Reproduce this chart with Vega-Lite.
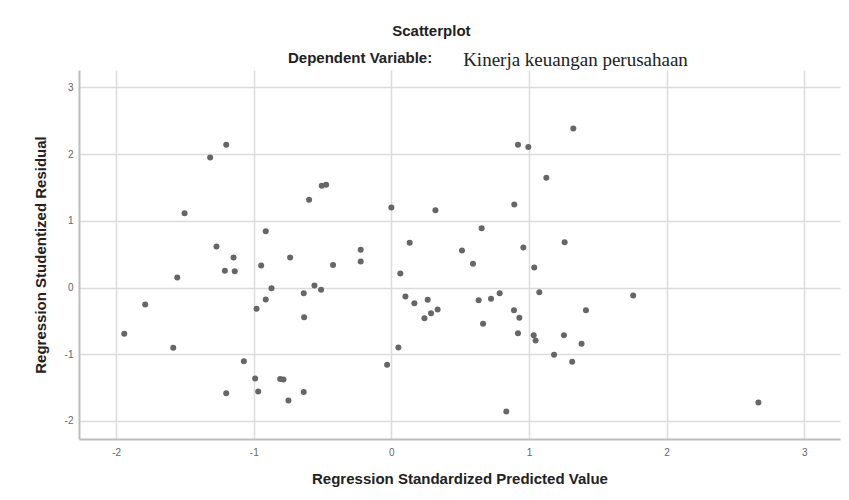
{
  "$schema": "https://vega.github.io/schema/vega-lite/v6.json",
  "autosize": {"type": "none"},
  "padding": {"left": 79, "top": 70, "right": 9, "bottom": 61},
  "width": 761,
  "height": 369,
  "background": "white",
  "title": {
    "text": "\u200b\u00a0\u00a0\u00a0\u00a0\u00a0\u00a0\u00a0\u00a0\u00a0\u00a0\u00a0\u00a0\u00a0\u00a0\u00a0\u00a0\u00a0\u00a0\u00a0\u00a0\u00a0\u00a0\u00a0\u00a0\u00a0Scatterplot",
    "subtitle": "Dependent Variable:",
    "anchor": "start",
    "frame": "group",
    "dx": 209,
    "offset": -16,
    "font": "Liberation Sans",
    "fontSize": 15,
    "fontWeight": "bold",
    "color": "#222",
    "subtitleFont": "Liberation Sans",
    "subtitleFontSize": 15,
    "subtitleFontWeight": "bold",
    "subtitleColor": "#222",
    "subtitlePadding": 12
  },
  "config": {
    "view": {"stroke": null},
    "axis": {
      "domainColor": "#bdbdbd",
      "domainWidth": 2,
      "gridColor": "#dcdcdc",
      "gridWidth": 1.5,
      "ticks": false,
      "labelColor": "#666",
      "labelFont": "Liberation Sans",
      "labelFontSize": 10,
      "titleFont": "Liberation Sans",
      "titleFontSize": 15,
      "titleFontWeight": "bold",
      "titleColor": "#222"
    }
  },
  "data": {
    "values": [
      {"pred": -1.200, "resid": 2.14},
      {"pred": -1.317, "resid": 1.95},
      {"pred": -1.503, "resid": 1.115},
      {"pred": -1.556, "resid": 0.15},
      {"pred": -1.789, "resid": -0.255},
      {"pred": -1.941, "resid": -0.694},
      {"pred": -1.585, "resid": -0.904},
      {"pred": -1.271, "resid": 0.615},
      {"pred": -1.147, "resid": 0.45},
      {"pred": -1.210, "resid": 0.25},
      {"pred": -1.138, "resid": 0.245},
      {"pred": -1.200, "resid": -1.583},
      {"pred": -1.072, "resid": -1.104},
      {"pred": -0.990, "resid": -1.364},
      {"pred": -0.968, "resid": -1.559},
      {"pred": -0.808, "resid": -1.369},
      {"pred": -0.784, "resid": -1.38},
      {"pred": -0.748, "resid": -1.694},
      {"pred": -0.637, "resid": -1.564},
      {"pred": -0.980, "resid": -0.319},
      {"pred": -0.913, "resid": -0.18},
      {"pred": -0.871, "resid": -0.01},
      {"pred": -0.946, "resid": 0.33},
      {"pred": -0.913, "resid": 0.845},
      {"pred": -0.736, "resid": 0.45},
      {"pred": -0.637, "resid": -0.085},
      {"pred": -0.634, "resid": -0.444},
      {"pred": -0.559, "resid": 0.03},
      {"pred": -0.511, "resid": -0.035},
      {"pred": -0.424, "resid": 0.336},
      {"pred": -0.598, "resid": 1.315},
      {"pred": -0.506, "resid": 1.525},
      {"pred": -0.474, "resid": 1.54},
      {"pred": -0.223, "resid": 0.565},
      {"pred": -0.223, "resid": 0.39},
      {"pred": 0.000, "resid": 1.2},
      {"pred": -0.031, "resid": -1.159},
      {"pred": 0.051, "resid": -0.9},
      {"pred": 0.065, "resid": 0.21},
      {"pred": 0.133, "resid": 0.67},
      {"pred": 0.320, "resid": 1.16},
      {"pred": 0.102, "resid": -0.135},
      {"pred": 0.167, "resid": -0.234},
      {"pred": 0.264, "resid": -0.184},
      {"pred": 0.240, "resid": -0.459},
      {"pred": 0.288, "resid": -0.384},
      {"pred": 0.336, "resid": -0.33},
      {"pred": 1.322, "resid": 2.384},
      {"pred": 0.920, "resid": 2.14},
      {"pred": 0.995, "resid": 2.105},
      {"pred": 1.126, "resid": 1.645},
      {"pred": 0.893, "resid": 1.245},
      {"pred": 0.656, "resid": 0.89},
      {"pred": 0.513, "resid": 0.555},
      {"pred": 0.593, "resid": 0.355},
      {"pred": 0.959, "resid": 0.6},
      {"pred": 1.038, "resid": 0.30},
      {"pred": 1.259, "resid": 0.68},
      {"pred": 1.075, "resid": -0.07},
      {"pred": 0.787, "resid": -0.085},
      {"pred": 0.724, "resid": -0.17},
      {"pred": 0.634, "resid": -0.19},
      {"pred": 0.666, "resid": -0.544},
      {"pred": 0.891, "resid": -0.34},
      {"pred": 0.930, "resid": -0.454},
      {"pred": 0.920, "resid": -0.684},
      {"pred": 1.034, "resid": -0.714},
      {"pred": 1.048, "resid": -0.795},
      {"pred": 1.254, "resid": -0.714},
      {"pred": 1.414, "resid": -0.34},
      {"pred": 1.382, "resid": -0.844},
      {"pred": 1.182, "resid": -1.009},
      {"pred": 1.314, "resid": -1.114},
      {"pred": 1.757, "resid": -0.12},
      {"pred": 0.835, "resid": -1.859},
      {"pred": 2.667, "resid": -1.724}
    ]
  },
  "resolve": {"axis": {"x": "independent"}},
  "layer": [
    {
      "mark": {"type": "point", "filled": true, "color": "#666", "opacity": 1, "size": 36},
      "encoding": {
        "x": {
          "field": "pred", "type": "quantitative",
          "scale": {"domain": [-2.27, 3.26], "nice": false, "zero": false},
          "axis": {
            "orient": "bottom",
            "title": "Regression Standardized Predicted Value",
            "values": [-2, -1, 0, 1, 2, 3],
            "labelExpr": "'' + datum.value",
            "labelPadding": 8,
            "titlePadding": 14
          }
        },
        "y": {
          "field": "resid", "type": "quantitative",
          "scale": {"domain": [-2.27, 3.26], "nice": false, "zero": false},
          "axis": {
            "title": "Regression Studentized Residual",
            "values": [-2, -1, 0, 1, 2, 3],
            "labelExpr": "'' + datum.value",
            "labelPadding": 6,
            "titlePadding": 16
          }
        }
      }
    },
    {
      "mark": {"type": "point", "opacity": 0},
      "encoding": {
        "x": {
          "field": "pred", "type": "quantitative",
          "axis": {
            "orient": "top",
            "title": "Kinerja keuangan perusahaan",
            "domain": false, "ticks": false, "labels": false, "grid": false,
            "titleFont": "Liberation Serif",
            "titleFontSize": 19,
            "titleFontWeight": "normal",
            "titleColor": "#222",
            "titleAlign": "center",
            "titleBaseline": "alphabetic",
            "titleAngle": 0,
            "titleX": 496,
            "titleY": -5
          }
        },
        "y": {"field": "resid", "type": "quantitative"}
      }
    }
  ]
}
